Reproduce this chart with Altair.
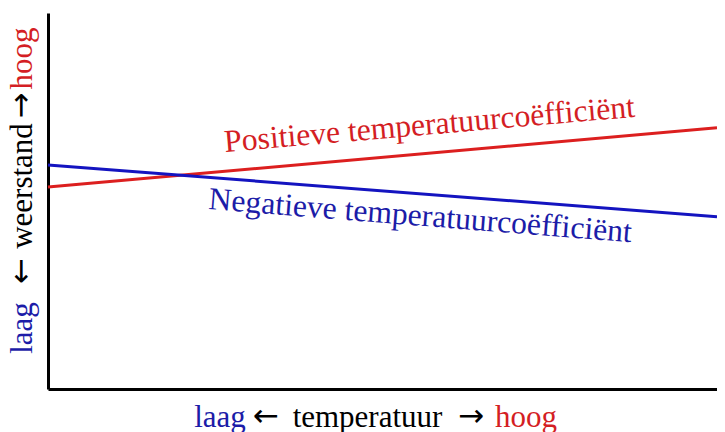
import altair as alt
import pandas as pd

# data
x_vals = [0.0, 1.0]
pos_vals = [0.537, 0.695]   # Positieve temperatuurcoëfficiënt
neg_vals = [0.596, 0.458]   # Negatieve temperatuurcoëfficiënt
series_names = ["Positieve temperatuurcoëfficiënt", "Negatieve temperatuurcoëfficiënt"]
series_colors = ["#dc1f1f", "#1414c0"]

RED = "#d41e24"
BLUE = "#1c1ca8"
FONT = "Liberation Serif"
ARROW_FONT = "DejaVu Sans"
FS = 31
LFS = 31.7
AFS = 31

rows = []
for x, y in zip(x_vals, pos_vals):
    rows.append({"serie": series_names[0], "x": x, "y": y})
for x, y in zip(x_vals, neg_vals):
    rows.append({"serie": series_names[1], "x": x, "y": y})
df = pd.DataFrame(rows)

axis_style = dict(title=None, labels=False, ticks=False, grid=False,
                  domainColor="black", domainWidth=3)

lines = alt.Chart(df).mark_line(strokeWidth=3).encode(
    x=alt.X("x:Q", scale=alt.Scale(domain=[0, 1], nice=False, zero=False), axis=alt.Axis(**axis_style)),
    y=alt.Y("y:Q", scale=alt.Scale(domain=[0, 1], nice=False, zero=False), axis=alt.Axis(**axis_style)),
    color=alt.Color("serie:N", scale=alt.Scale(domain=series_names, range=series_colors), legend=None),
    detail="serie:N",
)


def txt(s, color, x, y, angle=0, align="center", font=FONT, size=FS):
    return alt.Chart(pd.DataFrame({"t": [s]})).mark_text(
        font=font, fontSize=size, color=color, align=align, baseline="alphabetic", angle=angle
    ).encode(text="t:N", x=alt.value(x), y=alt.value(y))


TOP = 5
XB = 414   # x-title baseline (plot coords)
YB = -16   # y-title baseline (plot coords)
labels = [
    txt(series_names[0], RED, 177, 139, angle=355.1, align="left", size=LFS),
    txt(series_names[1], BLUE, 160, 196, angle=4.5, align="left", size=LFS),
    # x-axis title
    txt("laag", BLUE, 172, XB),
    txt("←", "black", 218, XB - 1, font=ARROW_FONT, size=AFS),
    txt("temperatuur", "black", 319.5, XB),
    txt("→", "black", 423, XB - 1, font=ARROW_FONT, size=AFS),
    txt("hoog", RED, 478, XB),
    # y-axis title
    txt("laag", BLUE, YB, 328 - 8 - TOP, angle=270),
    txt("←", "black", YB - 1, 271 - 8 - TOP, angle=270, font=ARROW_FONT, size=AFS),
    txt("weerstand", "black", YB, 186 - 8 - TOP, angle=270),
    txt("→", "black", YB - 1, 105.5 - 8 - TOP, angle=270, font=ARROW_FONT, size=AFS),
    txt("hoog", RED, YB, 58.5 - 8 - TOP, angle=270),
]

chart = alt.layer(lines, *labels).properties(
    width=669,
    height=376,
    background="white",
    autosize=alt.AutoSizeParams(type="none"),
    padding={"left": 40, "top": TOP, "right": 0, "bottom": 43},
).configure_view(stroke=None)

chart.save("out.html", embed_options={"renderer": "svg", "actions": False})
